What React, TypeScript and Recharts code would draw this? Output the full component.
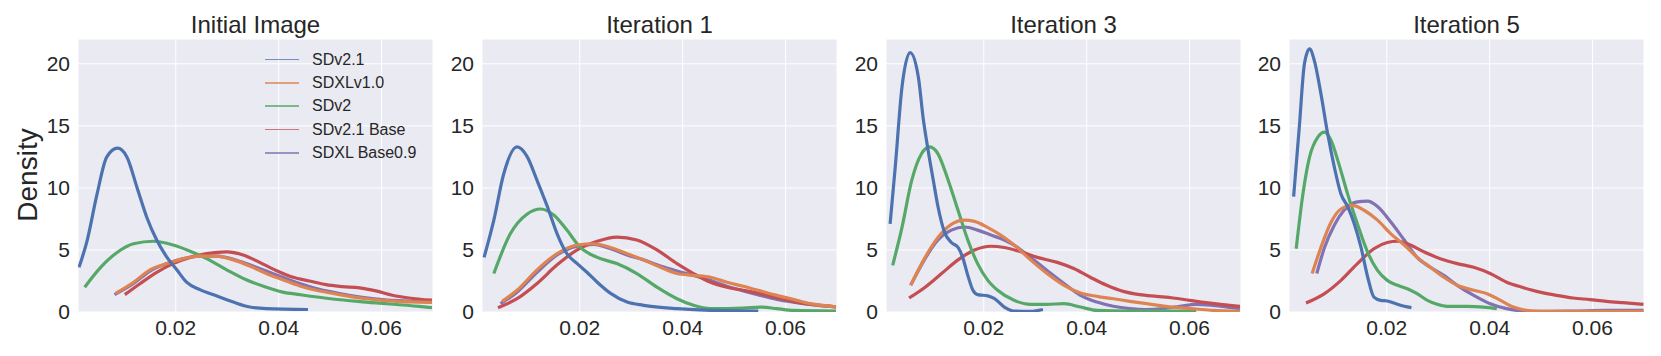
import { LineChart, Line, XAxis, YAxis, CartesianGrid, Legend } from 'recharts';

type Pt = [number, number];

const SERIES_NAMES = ['SDv2.1', 'SDXLv1.0', 'SDv2', 'SDv2.1 Base', 'SDXL Base0.9'];
const SERIES_COLORS = ['#4C72B0', '#DD8452', '#55A868', '#C44E52', '#8172B3'];
const PANEL_TITLES = ['Initial Image', 'Iteration 1', 'Iteration 3', 'Iteration 5'];
const X_TICKS = [0.02, 0.04, 0.06];
const Y_TICKS = [0, 5, 10, 15, 20];

// Initial Image
const initSDv21: Pt[] = [[0.0012, 3.6], [0.0028, 5.8], [0.0047, 9.5], [0.0066, 12.5], [0.0087, 13.2], [0.0105, 12.5], [0.0125, 10.0], [0.0144, 7.6], [0.0163, 5.8], [0.0183, 4.4], [0.0202, 3.4], [0.0221, 2.4], [0.0247, 1.8], [0.0279, 1.3], [0.0312, 0.8], [0.0344, 0.4], [0.0376, 0.27], [0.0457, 0.2]];
const initSDXLv10: Pt[] = [[0.0083, 1.5], [0.0118, 2.4], [0.015, 3.4], [0.0183, 3.9], [0.0215, 4.3], [0.0247, 4.5], [0.0279, 4.5], [0.0312, 4.2], [0.0344, 3.7], [0.0376, 3.1], [0.0408, 2.6], [0.0441, 2.1], [0.0473, 1.75], [0.0505, 1.5], [0.0537, 1.26], [0.057, 1.07], [0.0602, 0.94], [0.0673, 0.8], [0.0698, 0.78]];
const initSDv2: Pt[] = [[0.0023, 2.0], [0.0054, 3.6], [0.0086, 4.8], [0.0118, 5.5], [0.0157, 5.7], [0.0195, 5.4], [0.0228, 4.9], [0.026, 4.3], [0.0299, 3.4], [0.0337, 2.6], [0.0376, 2.0], [0.0408, 1.6], [0.0441, 1.4], [0.0505, 1.05], [0.057, 0.8], [0.0673, 0.45], [0.0698, 0.35]];
const initSDv21Base: Pt[] = [[0.0101, 1.4], [0.0131, 2.3], [0.0163, 3.2], [0.0195, 3.9], [0.0228, 4.4], [0.026, 4.7], [0.0299, 4.85], [0.0331, 4.6], [0.0363, 4.0], [0.0395, 3.35], [0.0428, 2.8], [0.046, 2.5], [0.0492, 2.2], [0.0524, 2.05], [0.0557, 1.95], [0.0589, 1.7], [0.0621, 1.35], [0.0653, 1.13], [0.0698, 0.95]];
const initSDXLBase09: Pt[] = [[0.0081, 1.4], [0.0118, 2.3], [0.015, 3.3], [0.0183, 3.9], [0.0215, 4.3], [0.0247, 4.5], [0.0279, 4.5], [0.0312, 4.25], [0.0344, 3.8], [0.0376, 3.3], [0.0408, 2.8], [0.0441, 2.3], [0.0473, 1.9], [0.0505, 1.6], [0.0537, 1.35], [0.057, 1.15], [0.0602, 1.0], [0.0673, 0.85], [0.0698, 0.8]];

// Iteration 1
const it1SDv21: Pt[] = [[0.0014, 4.4], [0.0033, 7.4], [0.0052, 11.1], [0.0078, 13.3], [0.0098, 12.5], [0.0117, 10.6], [0.0137, 8.5], [0.0156, 6.3], [0.0175, 4.7], [0.0195, 3.9], [0.0214, 3.2], [0.0234, 2.4], [0.026, 1.5], [0.0292, 0.8], [0.0324, 0.54], [0.0389, 0.27], [0.0454, 0.13], [0.0547, 0.08]];
const it1SDXLv10: Pt[] = [[0.0049, 0.86], [0.0078, 1.75], [0.0117, 3.4], [0.0156, 4.7], [0.0195, 5.4], [0.0227, 5.5], [0.026, 5.2], [0.0292, 4.7], [0.0324, 4.2], [0.0357, 3.6], [0.0389, 3.1], [0.0421, 2.95], [0.0454, 2.8], [0.0486, 2.4], [0.0518, 2.07], [0.0551, 1.7], [0.0583, 1.34], [0.0615, 1.02], [0.0648, 0.67], [0.0698, 0.42]];
const it1SDv2: Pt[] = [[0.0033, 3.1], [0.0065, 6.3], [0.0098, 7.9], [0.0124, 8.3], [0.015, 7.8], [0.0175, 6.6], [0.0201, 5.2], [0.0234, 4.4], [0.0272, 3.9], [0.0311, 3.1], [0.035, 2.0], [0.0389, 1.07], [0.0421, 0.54], [0.0454, 0.27], [0.0518, 0.32], [0.0551, 0.4], [0.0583, 0.27], [0.0615, 0.13], [0.0698, 0.08]];
const it1SDv21Base: Pt[] = [[0.0041, 0.35], [0.0078, 1.07], [0.0117, 2.3], [0.0156, 3.8], [0.0195, 5.0], [0.0234, 5.7], [0.0272, 6.04], [0.0311, 5.8], [0.035, 5.0], [0.0389, 3.9], [0.0421, 3.1], [0.0454, 2.4], [0.0486, 2.0], [0.0518, 1.75], [0.0551, 1.48], [0.0583, 1.15], [0.0615, 0.86], [0.0648, 0.62], [0.0698, 0.42]];
const it1SDXLBase09: Pt[] = [[0.0046, 0.67], [0.0078, 1.6], [0.0117, 3.2], [0.0156, 4.6], [0.0195, 5.3], [0.0227, 5.45], [0.026, 5.1], [0.0292, 4.6], [0.0324, 4.2], [0.0357, 3.7], [0.0389, 3.3], [0.0421, 2.95], [0.0454, 2.55], [0.0486, 2.07], [0.0518, 1.7], [0.0551, 1.34], [0.0583, 1.02], [0.0615, 0.8], [0.0648, 0.62], [0.0698, 0.42]];

// Iteration 3
const it3SDv21: Pt[] = [[0.0018, 7.1], [0.0028, 11.7], [0.0041, 18.1], [0.0057, 20.9], [0.0073, 18.9], [0.0082, 15.7], [0.0092, 13.0], [0.0102, 10.6], [0.0111, 8.5], [0.0124, 6.4], [0.0137, 5.6], [0.015, 5.2], [0.0159, 4.4], [0.0169, 2.95], [0.0179, 1.75], [0.0188, 1.4], [0.0208, 1.3], [0.0221, 1.07], [0.024, 0.4], [0.0259, 0.08], [0.0291, 0.05], [0.0315, 0.2]];
const it3SDXLv10: Pt[] = [[0.0058, 2.15], [0.0086, 4.4], [0.0111, 6.0], [0.0137, 7.06], [0.0163, 7.4], [0.0182, 7.3], [0.0208, 6.8], [0.0233, 6.2], [0.0259, 5.4], [0.0291, 4.2], [0.0323, 3.1], [0.0356, 2.15], [0.0388, 1.53], [0.042, 1.26], [0.0452, 1.07], [0.0484, 0.86], [0.0516, 0.67], [0.0549, 0.48], [0.0581, 0.35], [0.0613, 0.24], [0.0645, 0.13], [0.0698, 0.05]];
const it3SDv2: Pt[] = [[0.0023, 3.76], [0.0041, 6.8], [0.006, 10.6], [0.0079, 12.75], [0.0095, 13.3], [0.0111, 12.75], [0.0131, 10.6], [0.015, 8.2], [0.0169, 5.8], [0.0188, 3.9], [0.0208, 2.55], [0.0227, 1.75], [0.0259, 0.94], [0.0291, 0.62], [0.0323, 0.62], [0.0356, 0.67], [0.0388, 0.4], [0.042, 0.13], [0.0484, 0.08], [0.0613, 0.08]];
const it3SDv21Base: Pt[] = [[0.0055, 1.13], [0.0086, 2.0], [0.0118, 3.1], [0.015, 4.2], [0.0182, 5.0], [0.0214, 5.3], [0.024, 5.2], [0.0272, 4.85], [0.0304, 4.4], [0.0343, 4.0], [0.0375, 3.5], [0.0407, 2.8], [0.0439, 2.15], [0.0471, 1.66], [0.0503, 1.4], [0.0536, 1.26], [0.0568, 1.13], [0.06, 0.94], [0.0632, 0.75], [0.0664, 0.59], [0.0698, 0.46]];
const it3SDXLBase09: Pt[] = [[0.0058, 2.15], [0.0086, 4.3], [0.0111, 5.8], [0.0137, 6.6], [0.0163, 6.85], [0.0188, 6.6], [0.0214, 6.2], [0.024, 5.8], [0.0266, 5.2], [0.0291, 4.4], [0.0323, 3.35], [0.0356, 2.3], [0.0388, 1.34], [0.042, 0.8], [0.0452, 0.46], [0.0484, 0.27], [0.0516, 0.19], [0.0549, 0.27], [0.0581, 0.46], [0.0613, 0.62], [0.0645, 0.54], [0.0698, 0.27]];

// Iteration 5
const it5SDv21: Pt[] = [[0.0019, 9.3], [0.003, 14.9], [0.004, 20.0], [0.005, 21.2], [0.0059, 20.3], [0.0072, 17.6], [0.0085, 14.4], [0.0098, 11.7], [0.0111, 9.5], [0.0124, 8.5], [0.0137, 7.1], [0.015, 5.2], [0.0163, 2.8], [0.0175, 1.2], [0.0188, 0.94], [0.0201, 0.89], [0.0214, 0.72], [0.0234, 0.46], [0.0248, 0.35]];
const it5SDXLv10: Pt[] = [[0.0055, 3.1], [0.0072, 5.2], [0.0092, 7.25], [0.0111, 8.3], [0.0134, 8.6], [0.0156, 8.2], [0.0182, 7.4], [0.0208, 6.3], [0.0234, 5.4], [0.0259, 4.4], [0.0285, 3.6], [0.0311, 2.8], [0.0337, 2.15], [0.0369, 1.75], [0.0395, 1.48], [0.0421, 0.94], [0.0446, 0.4], [0.0472, 0.13], [0.0498, 0.05], [0.0562, 0.05], [0.0627, 0.05], [0.0699, 0.05]];
const it5SDv2: Pt[] = [[0.0024, 5.1], [0.0037, 9.5], [0.005, 12.5], [0.0066, 14.1], [0.0079, 14.5], [0.0092, 13.8], [0.0105, 12.2], [0.0124, 9.5], [0.0143, 7.1], [0.0163, 4.8], [0.0182, 3.35], [0.0201, 2.55], [0.0221, 2.15], [0.024, 1.88], [0.0259, 1.48], [0.0279, 0.94], [0.0298, 0.62], [0.0317, 0.46], [0.0356, 0.46], [0.0388, 0.4], [0.0414, 0.27]];
const it5SDv21Base: Pt[] = [[0.0043, 0.72], [0.0079, 1.48], [0.0111, 2.55], [0.0143, 3.9], [0.0175, 5.1], [0.0201, 5.6], [0.0221, 5.7], [0.0246, 5.4], [0.0272, 4.85], [0.0304, 4.3], [0.0337, 3.9], [0.0369, 3.6], [0.0401, 3.1], [0.0433, 2.4], [0.0466, 1.96], [0.0498, 1.6], [0.053, 1.34], [0.0562, 1.13], [0.0595, 1.0], [0.0627, 0.86], [0.0659, 0.75], [0.0699, 0.62]];
const it5SDXLBase09: Pt[] = [[0.0064, 3.1], [0.0079, 5.2], [0.0098, 7.0], [0.0117, 8.2], [0.014, 8.86], [0.0163, 8.94], [0.0182, 8.5], [0.0208, 7.25], [0.0234, 5.8], [0.0259, 4.4], [0.0285, 3.6], [0.0311, 2.95], [0.0337, 2.15], [0.0369, 1.34], [0.0401, 0.67], [0.0433, 0.27], [0.0466, 0.08], [0.0498, 0.05], [0.0562, 0.08], [0.0627, 0.13], [0.0699, 0.13]];

const PANEL_CURVES: Pt[][][] = [
    [initSDv21, initSDXLv10, initSDv2, initSDv21Base, initSDXLBase09],
    [it1SDv21, it1SDXLv10, it1SDv2, it1SDv21Base, it1SDXLBase09],
    [it3SDv21, it3SDXLv10, it3SDv2, it3SDv21Base, it3SDXLBase09],
    [it5SDv21, it5SDXLv10, it5SDv2, it5SDv21Base, it5SDXLBase09],
];

const FONT = '"Liberation Sans", Arial, Helvetica, sans-serif';
const TEXT = '#262626';
const PLOT_LEFTS = [78, 482, 886, 1289];
const PLOT_W = 355;
const PLOT_TOP = 39;
const X_AXIS_H = 44;
const H = 356;

const toPoints = (pts: Pt[]) => pts.map(([x, y]) => ({ x, y }));

const renderLegend = () => (
    <div style={{ fontFamily: FONT, fontSize: 16, color: TEXT }}>
        {SERIES_NAMES.map((name, i) => (
            <div key={name} style={{ display: 'flex', alignItems: 'center', height: 23.3 }}>
                <div style={{ width: 34, height: 1.6, background: SERIES_COLORS[i], opacity: 0.75, marginRight: 13 }} />
                <span style={{ whiteSpace: 'nowrap' }}>{name}</span>
            </div>
        ))}
    </div>
);

const Panel = ({ idx }: { idx: number }) => {
    const yW = idx === 0 ? 78 : 40;
    const chartLeft = PLOT_LEFTS[idx] - yW;
    const curves = PANEL_CURVES[idx];
    // seaborn draws the last hue first, so the first one ends on top
    const order = [4, 3, 2, 1, 0];
    return (
        <div style={{ position: 'absolute', left: chartLeft, top: 0 }}>
            <LineChart width={yW + PLOT_W + 4} height={H} margin={{ top: PLOT_TOP, right: 4, bottom: 0, left: 0 }}>
                <CartesianGrid stroke="#ffffff" strokeWidth={1} fill="#EAEAF2" />
                <XAxis
                    dataKey="x"
                    type="number"
                    domain={[0.001, 0.07]}
                    ticks={X_TICKS}
                    allowDataOverflow
                    tickFormatter={(v: number) => v.toFixed(2)}
                    axisLine={false}
                    tickLine={false}
                    height={X_AXIS_H}
                    tick={{ fill: TEXT, fontSize: 21, fontFamily: FONT }}
                />
                <YAxis
                    type="number"
                    domain={[0, 22]}
                    ticks={Y_TICKS}
                    allowDataOverflow
                    axisLine={false}
                    tickLine={false}
                    width={yW}
                    tick={{ fill: TEXT, fontSize: 21, fontFamily: FONT }}
                />
                {order.map((s) => (
                    <Line
                        key={SERIES_NAMES[s]}
                        data={toPoints(curves[s])}
                        dataKey="y"
                        name={SERIES_NAMES[s]}
                        type="monotone"
                        stroke={SERIES_COLORS[s]}
                        strokeWidth={3.2}
                        dot={false}
                        activeDot={false}
                        isAnimationActive={false}
                    />
                ))}
                {idx === 0 && (
                    <Legend
                        layout="vertical"
                        align="center"
                        verticalAlign="middle"
                        content={renderLegend}
                        wrapperStyle={{ position: 'absolute', left: 265, top: 48, width: 'auto' }}
                    />
                )}
            </LineChart>
            <div
                style={{
                    position: 'absolute', top: 11, left: yW, width: PLOT_W, textAlign: 'center',
                    fontFamily: FONT, fontSize: 24, color: TEXT, lineHeight: '28px',
                }}
            >
                {PANEL_TITLES[idx]}
            </div>
        </div>
    );
};

export default function App() {
    return (
        <div style={{ position: 'absolute', left: 0, top: 0, width: 1661, height: H, background: '#ffffff' }}>
            {PANEL_TITLES.map((t, i) => (
                <Panel key={t} idx={i} />
            ))}
            <div
                style={{
                    position: 'absolute', left: 28, top: 175, transform: 'translate(-50%, -50%) rotate(-90deg)',
                    fontFamily: FONT, fontSize: 28, color: TEXT, whiteSpace: 'nowrap',
                }}
            >
                Density
            </div>
        </div>
    );
}
